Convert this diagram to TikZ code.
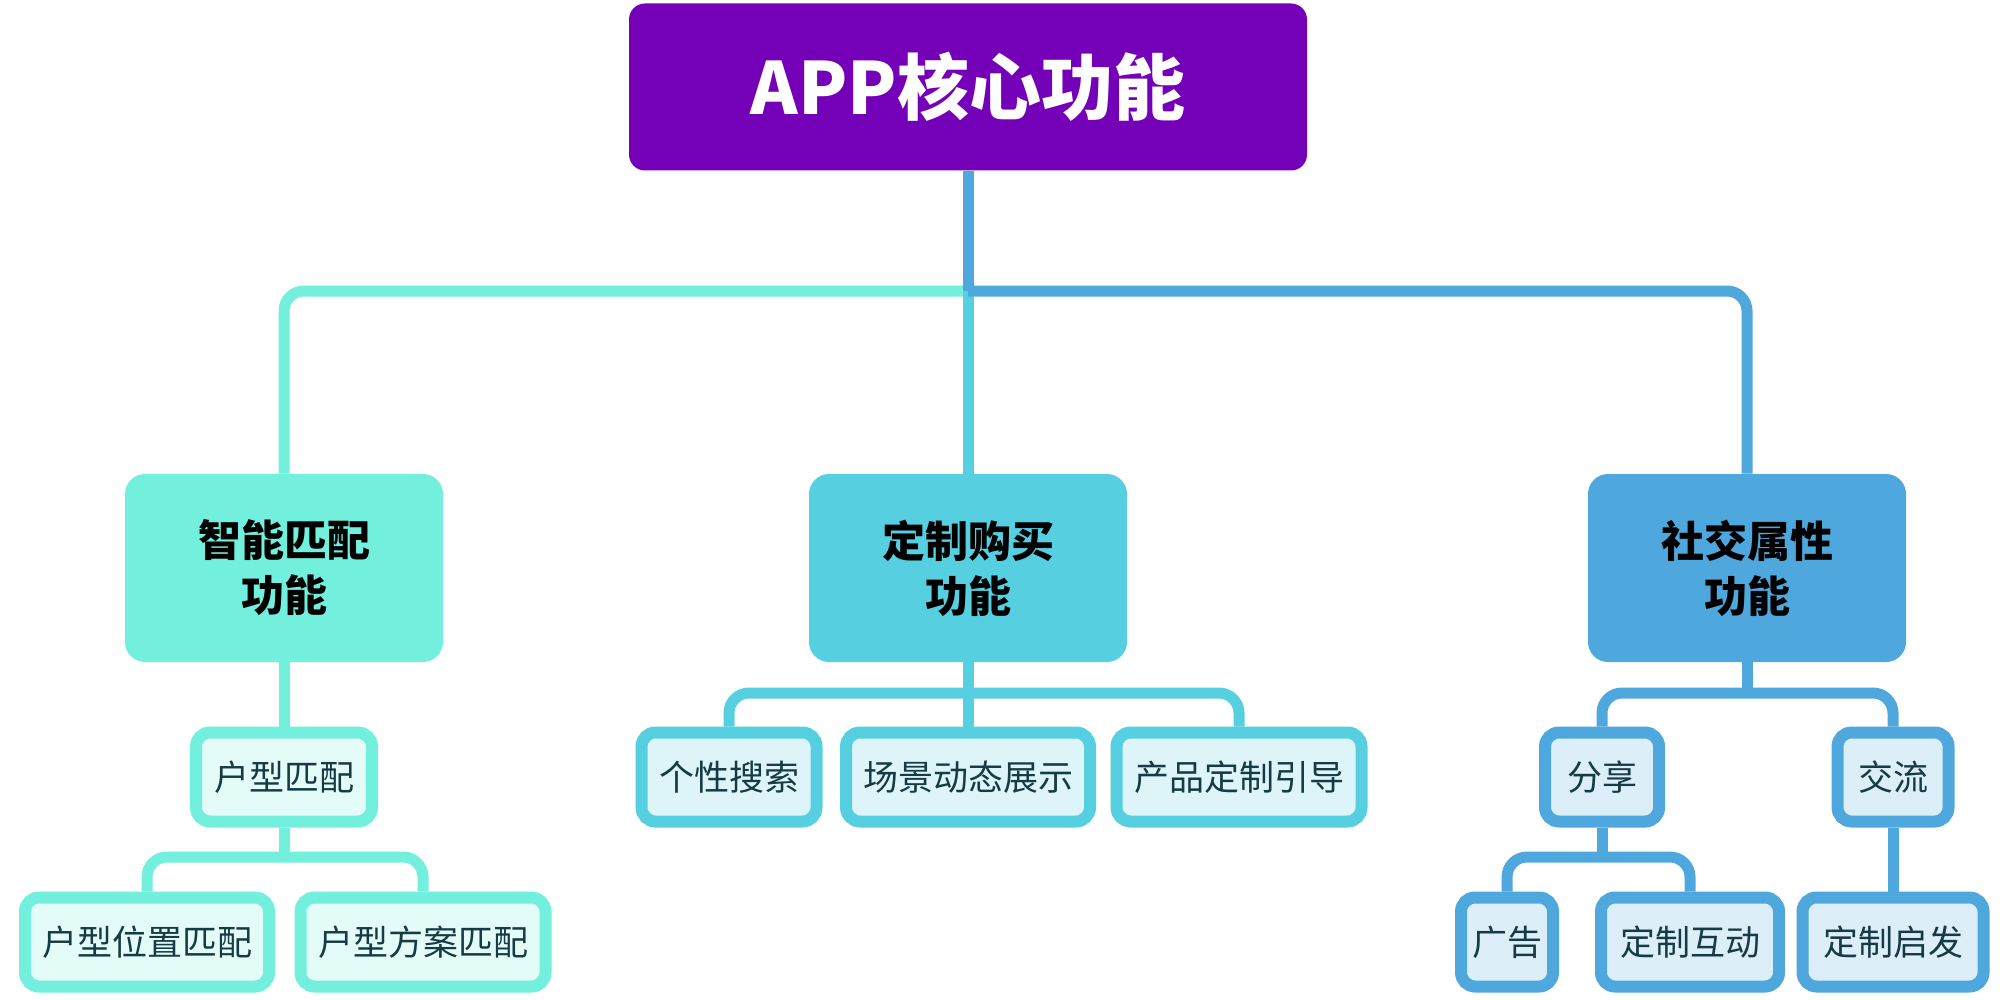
\documentclass[tikz,border=0pt]{standalone}
\usepackage{fontspec}
\setmainfont{Noto Sans CJK SC}
\definecolor{cRoot}{HTML}{7400B8}
\definecolor{cA}{HTML}{72EFDD}
\definecolor{cB}{HTML}{56CFE1}
\definecolor{cC}{HTML}{4EA8DE}
\definecolor{txt}{HTML}{173B45}
\begin{document}
\begin{tikzpicture}[x=0.5pt,y=-0.5pt,
 rootbox/.style={fill=cRoot, rounded corners=8pt, minimum width=339pt, minimum height=83.5pt, inner sep=0pt, text=white, font=\fontsize{36pt}{40pt}\selectfont\bfseries},
 topbox/.style={fill=#1, rounded corners=10pt, minimum width=159pt, minimum height=94pt, inner sep=0pt, align=center, font=\fontsize{21.5pt}{27.5pt}\selectfont\bfseries},
 leaf/.style={draw=#1, fill=#1!20, line width=6pt, rounded corners=7pt, minimum height=44.5pt, inner sep=0pt, font=\fontsize{17.5pt}{20pt}\selectfont, text=txt},
 link/.style={draw=#1, line width=5.5pt, rounded corners=10pt},
 trunk/.style={draw=#1, line width=5.5pt},
]
\useasboundingbox (0,0) rectangle (2000,1000);
% nodes
\node[rootbox] (root) at (968,87) {APP核心功能};
\node[topbox=cA] (a) at (284,568) {智能匹配\\功能};
\node[topbox=cB] (b) at (968,568) {定制购买\\功能};
\node[topbox=cC] (c) at (1747,568) {社交属性\\功能};
\node[leaf=cA, minimum width=88pt] (a1) at (284,777) {户型匹配};
\node[leaf=cA, minimum width=122pt] (a11) at (147,942) {户型位置匹配};
\node[leaf=cA, minimum width=122.5pt] (a12) at (423,942) {户型方案匹配};
\node[leaf=cB, minimum width=87.5pt] (b1) at (729,777) {个性搜索};
\node[leaf=cB, minimum width=122pt] (b2) at (968,777) {场景动态展示};
\node[leaf=cB, minimum width=122.5pt] (b3) at (1239,777) {产品定制引导};
\node[leaf=cC, minimum width=57pt] (c1) at (1602,777) {分享};
\node[leaf=cC, minimum width=55.5pt] (c2) at (1893,777) {交流};
\node[leaf=cC, minimum width=46pt] (c11) at (1507,942) {广告};
\node[leaf=cC, minimum width=89pt] (c12) at (1690,942) {定制互动};
\node[leaf=cC, minimum width=90.5pt] (c21) at (1893,942) {定制启发};
% junction coordinates
\coordinate (j) at (968,291);
\coordinate (ja) at (284,857);
\coordinate (jb) at (968,693);
\coordinate (jc) at (1747,693);
\coordinate (jc1) at (1602,857);
% connectors level 1
\draw[link=cA] (j) -| (a.north);
\draw[trunk=cB] (root.south) -- (b.north);
\draw[trunk=cC] (root.south) -- (j);
\draw[link=cC] (j) -| (c.north);
% left branch
\draw[trunk=cA] (a.south) -- (a1.north);
\draw[trunk=cA] (a1.south) -- (ja);
\draw[link=cA] (ja) -| (a11.north);
\draw[link=cA] (ja) -| (a12.north);
% middle branch
\draw[trunk=cB] (b.south) -- (b2.north);
\draw[link=cB] (jb) -| (b1.north);
\draw[link=cB] (jb) -| (b3.north);
% right branch
\draw[trunk=cC] (c.south) -- (jc);
\draw[link=cC] (jc) -| (c1.north);
\draw[link=cC] (jc) -| (c2.north);
\draw[trunk=cC] (c1.south) -- (jc1);
\draw[link=cC] (jc1) -| (c11.north);
\draw[link=cC] (jc1) -| (c12.north);
\draw[trunk=cC] (c2.south) -- (c21.north);
\end{tikzpicture}
\end{document}
